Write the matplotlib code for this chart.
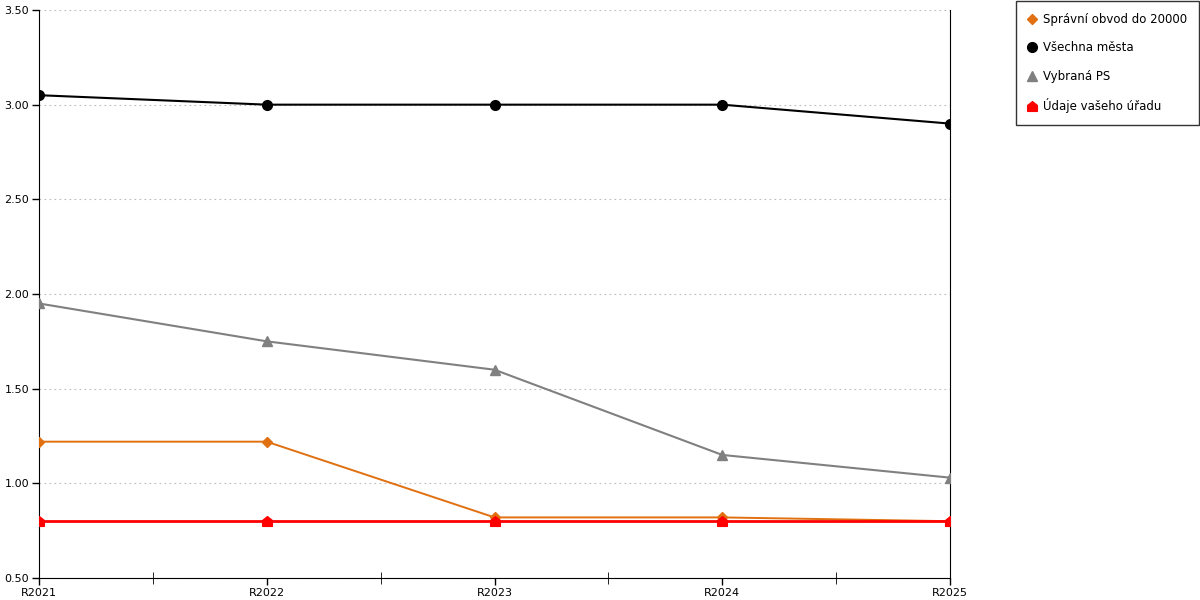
import numpy as np
import matplotlib
matplotlib.use("Agg")
import matplotlib.pyplot as plt
from matplotlib.path import Path

years = ["R2021", "R2022", "R2023", "R2024", "R2025"]
spravni_obvod = [1.22, 1.22, 0.82, 0.82, 0.80]
vsechna_mesta = [3.05, 3.00, 3.00, 3.00, 2.90]
vybrana_ps = [1.95, 1.75, 1.60, 1.15, 1.03]
udaje_uradu = [0.80, 0.80, 0.80, 0.80, 0.80]

labels = ["Správní obvod do 20000", "Všechna města", "Vybraná PS", "Údaje vašeho úřadu"]

# house-shaped marker for the office series
house = Path([(-1, -1), (1, -1), (1, 0.2), (0, 1), (-1, 0.2), (-1, -1)],
             [Path.MOVETO, Path.LINETO, Path.LINETO, Path.LINETO, Path.LINETO, Path.CLOSEPOLY])

plt.rcParams['font.family'] = ['DejaVu Sans']
fig = plt.figure(figsize=(12, 6), dpi=100)
ax = fig.add_axes([39/1200, 22/600, (950-39)/1200, (578-10)/600])

x = np.arange(len(years))
ax.plot(x, spravni_obvod, color="#e07010", lw=1.4, marker="D", ms=5.5, label=labels[0], zorder=3)
ax.plot(x, vsechna_mesta, color="black", lw=1.5, marker="o", ms=7, label=labels[1], zorder=3)
ax.plot(x, vybrana_ps, color="#808080", lw=1.5, marker="^", ms=7, label=labels[2], zorder=3)
ax.plot(x, udaje_uradu, color="#ff0000", lw=2, marker=house, ms=7, label=labels[3], zorder=4)

ax.set_xlim(0, len(years) - 1)
ax.set_ylim(0.5, 3.5)
ax.set_yticks(np.arange(0.5, 3.51, 0.5))
ax.set_yticklabels(["{:.2f}".format(v) for v in np.arange(0.5, 3.51, 0.5)])
ax.set_xticks(x)
ax.set_xticklabels(years)
ax.set_xticks(x[:-1] + 0.5, minor=True)
ax.tick_params(axis='both', labelsize=8, length=5, width=1, pad=2)
ax.tick_params(axis='x', which='minor', direction='inout', length=8)
ax.grid(axis='y', color="#bbbbbb", linestyle=(0, (1.5, 3)), lw=0.8)
ax.spines['top'].set_visible(False)
for s in ['left', 'bottom', 'right']:
    ax.spines[s].set_color('black')

leg = fig.legend(loc="upper right", bbox_to_anchor=(1.0, 1.0), fontsize=8.5,
                 frameon=True, fancybox=False, edgecolor="black", borderpad=1.0,
                 borderaxespad=0.1, labelspacing=1.3, handlelength=0.8, handletextpad=0.5)
for h in leg.legend_handles:
    h.set_linestyle("None")
leg.get_frame().set_linewidth(1)

fig.savefig("out.png", dpi=100)
